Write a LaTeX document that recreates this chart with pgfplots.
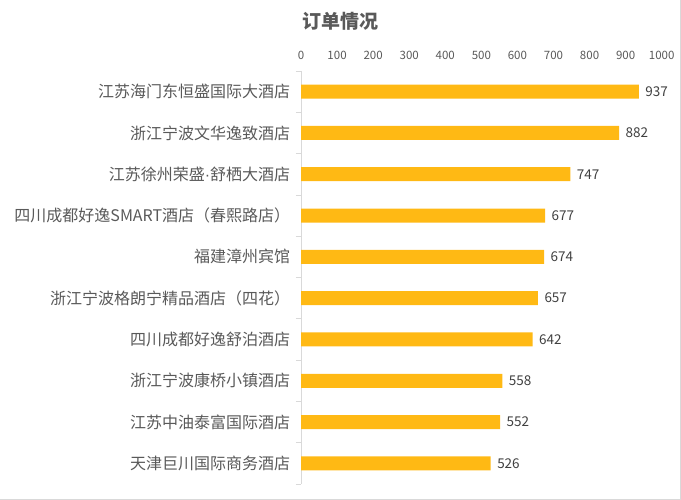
\documentclass[border=0pt]{standalone}
\usepackage{pgfplots}
\pgfplotsset{compat=1.18}
\usepackage{fontspec}
\setmainfont{Noto Sans CJK SC}
\newfontfamily\latinf{Liberation Sans}
\definecolor{barc}{HTML}{FFB914}
\definecolor{lblc}{HTML}{595959}
\definecolor{valc}{HTML}{404040}
\definecolor{axc}{HTML}{D9D9D9}
\begin{document}
\begin{tikzpicture}
\path[use as bounding box] (0,0) rectangle (681bp,500bp);
\draw[color=axc,line width=1bp] (0,0.5bp) -- (680.5bp,0.5bp) -- (680.5bp,500bp);
\node[font=\fontsize{19bp}{22bp}\selectfont\bfseries, text=lblc, anchor=center] at (340.5bp,479bp) {订单情况};
\begin{axis}[
  at={(301bp,16bp)}, anchor=south west,
  scale only axis, width=360.7bp, height=413bp,
  xbar, bar width=14bp,
  xmin=0, xmax=1000, xtick={0,100,...,1000},
  ymin=-0.5, ymax=9.5, y dir=reverse,
  ytick={0,...,9},
  yticklabels={江苏海门东恒盛国际大酒店,浙江宁波文华逸致酒店,江苏徐州荣盛{\latinf ·}舒栖大酒店,四川成都好逸SMART酒店（春熙路店）,福建漳州宾馆,浙江宁波格朗宁精品酒店（四花）,四川成都好逸舒泊酒店,浙江宁波康桥小镇酒店,江苏中油泰富国际酒店,天津巨川国际商务酒店},
  minor ytick={-0.5,0.5,...,9.5},
  axis x line*=top, axis y line*=left,
  x axis line style={draw=none},
  y axis line style={draw=axc, line width=0.8bp},
  xtick style={draw=none},
  major y tick style={draw=none},
  minor y tick style={draw=axc, line width=0.8bp},
  minor tick length=5bp,
  tick align=outside,
  xticklabel style={font=\fontsize{11.5bp}{13bp}\selectfont, text=lblc, yshift=4bp},
  yticklabel style={font=\fontsize{16bp}{18bp}\selectfont, text=lblc, xshift=-3bp},
  /pgf/number format/assume math mode=true,
  /pgf/number format/1000 sep={},
  nodes near coords,
  every node near coord/.style={font=\fontsize{13.5bp}{16bp}\selectfont, text=valc, anchor=west, xshift=3bp},
  clip=false,
]
\addplot[draw=none, fill=barc] coordinates {
(937,0) (882,1) (747,2) (677,3) (674,4) (657,5) (642,6) (558,7) (552,8) (526,9)
};
\end{axis}
\end{tikzpicture}
\end{document}
